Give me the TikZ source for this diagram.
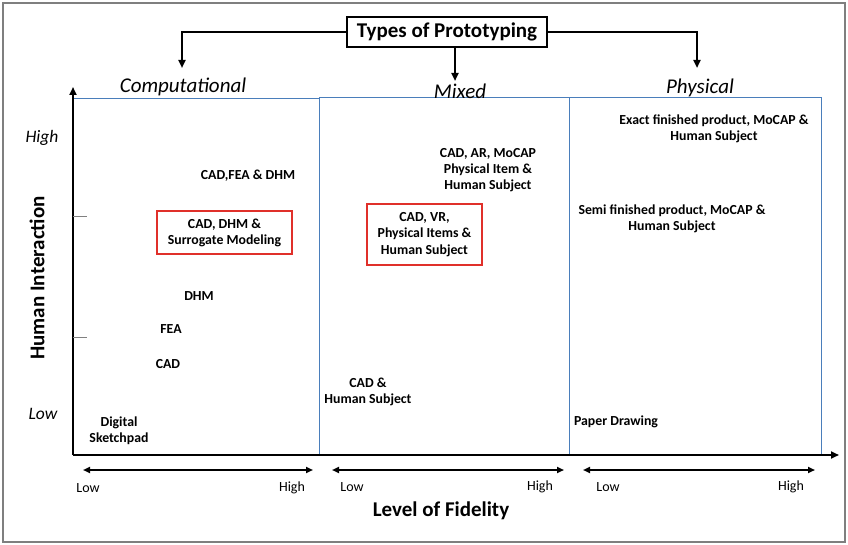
\documentclass[tikz,border=0pt]{standalone}
\usepackage{fontspec}
\setmainfont{Carlito}
\usetikzlibrary{arrows.meta}
\definecolor{boxblue}{HTML}{4A7EBB}
\definecolor{boxred}{HTML}{E0302A}
\definecolor{framegray}{HTML}{7F7F7F}
\begin{document}
\begin{tikzpicture}[x=1pt,y=-1pt,
  lbl/.style={font=\fontsize{13.8}{16}\selectfont\bfseries, align=center, inner sep=0pt},
  redbox/.style={draw=boxred, line width=2.6pt, inner sep=0pt},
  region/.style={draw=boxblue, line width=0.9pt},
  heading/.style={font=\fontsize{21}{24}\selectfont\itshape, inner sep=0pt},
  conn/.style={line width=2pt, -{Triangle[length=8pt,width=7pt]}},
  dbl/.style={line width=2pt, {Triangle[length=7pt,width=6pt]}-{Triangle[length=7pt,width=6pt]}},
  small/.style={font=\fontsize{14}{16}\selectfont, inner sep=0pt},
  yl/.style={font=\fontsize{17.5}{20}\selectfont\itshape, inner sep=0pt}]
\useasboundingbox (0,0) rectangle (848,545);
\fill[white] (0,0) rectangle (848,545);
\draw[framegray, line width=1.6pt] (3,3) rectangle (845,542);

% regions
\draw[region] (73,98) rectangle (319,455);
\draw[region] (319,97) rectangle (569,455);
\draw[region] (569,97) rectangle (821,455);

% title
\node[draw, line width=1.5pt, minimum width=200pt, minimum height=30pt, font=\fontsize{21}{24}\selectfont\bfseries] (title) at (447,32) {Types of Prototyping};
\coordinate (cL) at (182,68);
\coordinate (cM) at (455,81);
\coordinate (cR) at (697,68);
\draw[conn] (title.west) -| (cL);
\draw[conn] (title.east) -| (cR);
\draw[conn] (title.south -| cM) -- (cM);

\node[heading] (hc) at (183,87) {Computational};
\node[heading] (hm) at (460,91) {Mixed};
\node[heading] (hp) at (700,88) {Physical};

% axes
\coordinate (O) at (73,455);
\coordinate (Ytop) at (73,87);
\coordinate (Xend) at (839,455);
\draw[line width=2.4pt, -{Triangle[length=8pt,width=7pt]}] (O) -- (Ytop);
\draw[line width=2.4pt, -{Triangle[length=8pt,width=7pt]}] (O) -- (Xend);
\draw[gray, line width=0.6pt] (73,216) -- (87,216);
\draw[gray, line width=0.6pt] (73,337) -- (87,337);

\node[yl] (yh) at (42,138) {High};
\node[yl] (ylo) at (43,414) {Low};
\node[rotate=90, font=\fontsize{21}{24}\selectfont\bfseries, inner sep=0pt] (yt) at (37,278) {Human Interaction};

% fidelity
\coordinate (f1a) at (83,470); \coordinate (f1b) at (313,470);
\coordinate (f2a) at (332,470); \coordinate (f2b) at (564,470);
\coordinate (f3a) at (583,470); \coordinate (f3b) at (815,470);
\draw[dbl] (f1a) -- (f1b);
\draw[dbl] (f2a) -- (f2b);
\draw[dbl] (f3a) -- (f3b);
\node[small] (l1) at (88,488) {Low};
\node[small] (h1) at (292,488) {High};
\node[small] (l2) at (352,487) {Low};
\node[small] (h2) at (540,487) {High};
\node[small] (l3) at (608,487) {Low};
\node[small] (h3) at (791,487) {High};
\node[font=\fontsize{21}{24}\selectfont\bfseries, inner sep=0pt] (xt) at (441,511) {Level of Fidelity};

% computational items
\node[lbl] (c1) at (248,176) {CAD,FEA \& DHM};
\node[redbox, minimum width=135pt, minimum height=43pt, align=center, font=\fontsize{13.8}{16}\selectfont\bfseries] (c2) at (224.5,232.5) {CAD, DHM \&\\Surrogate Modeling};
\node[lbl] (c3) at (199,296) {DHM};
\node[lbl] (c4) at (171,329) {FEA};
\node[lbl] (c5) at (168,364) {CAD};
\node[lbl] (c6) at (119,431) {Digital\\Sketchpad};

% mixed items
\node[lbl] (m1) at (488,170) {CAD, AR, MoCAP\\Physical Item \&\\Human Subject};
\node[redbox, minimum width=115pt, minimum height=61pt, align=center, font=\fontsize{13.8}{16.5}\selectfont\bfseries] (m2) at (424.5,234.5) {CAD, VR,\\Physical Items \&\\Human Subject};
\node[lbl] (m3) at (368,392) {CAD \&\\Human Subject};

% physical items
\node[lbl] (p1) at (714,129) {Exact finished product, MoCAP \&\\Human Subject};
\node[lbl] (p2) at (672,219) {Semi finished product, MoCAP \&\\Human Subject};
\node[lbl] (p3) at (616,422) {Paper Drawing};
\end{tikzpicture}
\end{document}
